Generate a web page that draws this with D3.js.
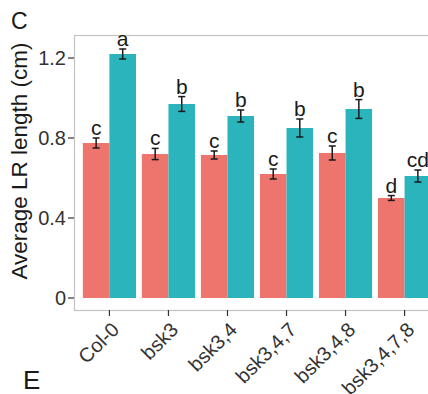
<!DOCTYPE html>
<html><head><meta charset="utf-8">
<script src="https://cdn.jsdelivr.net/npm/d3@7"></script>
<style>body{margin:0;background:#fff}svg{display:block}text{font-family:"Liberation Sans",Arial,sans-serif}</style>
</head><body><svg id="c" width="428" height="394"></svg>
<script>
const categories = ["Col-0","bsk3","bsk3,4","bsk3,4,7","bsk3,4,8","bsk3,4,7,8"];
const series = ["s1","s2"];
const values1 = [0.775,0.72,0.715,0.62,0.725,0.50];
const errors1 = [0.025,0.028,0.02,0.025,0.035,0.012];
const letters1 = ["c","c","c","c","c","d"];
const values2 = [1.22,0.97,0.91,0.85,0.945,0.61];
const errors2 = [0.025,0.037,0.03,0.045,0.047,0.03];
const letters2 = ["a","b","b","b","b","cd"];
const yTicks = [0,0.4,0.8,1.2];
const yTickLabels = ["0","0.4","0.8","1.2"];
const colors = ["#EE746E","#2BB4BC"];

const svg = d3.select("#c");
const pL=74, pT=35, pB=310, pR=440;
const x = d3.scaleBand().domain(categories).range([pL,pR]).paddingInner(0).paddingOuter(0.1);
const y = d3.scaleLinear().domain([0,1.2]).range([298,58]);
const dodge = d3.scaleBand().domain(series).range([0,x.bandwidth()*0.9]);
const off = x.bandwidth()*0.05;

// panel
svg.append("rect").attr("x",pL+0.5).attr("y",pT+0.5).attr("width",pR-pL).attr("height",pB-pT)
  .attr("fill","#fff").attr("stroke","#c4c4c4").attr("stroke-width",1.2);

const data = [];
categories.forEach((c,i)=>{
  data.push({c,s:"s1",v:values1[i],e:errors1[i],l:letters1[i],col:colors[0]});
  data.push({c,s:"s2",v:values2[i],e:errors2[i],l:letters2[i],col:colors[1]});
});
const g = svg.append("g");
g.selectAll("rect.bar").data(data).join("rect").attr("class","bar")
  .attr("x",d=>x(d.c)+off+dodge(d.s)).attr("width",dodge.bandwidth())
  .attr("y",d=>y(d.v)).attr("height",d=>y(0)-y(d.v)).attr("fill",d=>d.col);
// error bars
const cx = d=>x(d.c)+off+dodge(d.s)+dodge.bandwidth()/2;
const eb = g.selectAll("g.eb").data(data).join("g").attr("stroke","#1a1a1a").attr("stroke-width",1.5);
eb.append("line").attr("x1",cx).attr("x2",cx).attr("y1",d=>y(d.v-d.e)).attr("y2",d=>y(d.v+d.e));
eb.append("line").attr("x1",d=>cx(d)-3.5).attr("x2",d=>cx(d)+3.5).attr("y1",d=>y(d.v-d.e)).attr("y2",d=>y(d.v-d.e));
eb.append("line").attr("x1",d=>cx(d)-3.5).attr("x2",d=>cx(d)+3.5).attr("y1",d=>y(d.v+d.e)).attr("y2",d=>y(d.v+d.e));
g.selectAll("text.lt").data(data).join("text").attr("class","lt")
  .attr("x",cx).attr("y",d=>y(d.v+d.e)-3).attr("text-anchor","middle")
  .attr("font-size",21).attr("fill","#1a1a1a").text(d=>d.l);

// y axis
const ya = svg.append("g");
yTicks.forEach((t,i)=>{
  ya.append("line").attr("x1",68).attr("x2",pL).attr("y1",y(t)).attr("y2",y(t)).attr("stroke","#333").attr("stroke-width",1.2);
  ya.append("text").attr("x",66).attr("y",y(t)).attr("dy","0.35em").attr("text-anchor","end")
    .attr("font-size",20).attr("fill","#333").text(yTickLabels[i]);
});
// x axis
const xa = svg.append("g");
categories.forEach(c=>{
  const tx = x(c)+x.bandwidth()/2;
  xa.append("line").attr("x1",tx).attr("x2",tx).attr("y1",pB).attr("y2",pB+6).attr("stroke","#333").attr("stroke-width",1.2);
  xa.append("text").attr("transform",`translate(${tx+11},331) rotate(-45)`).attr("text-anchor","end")
    .attr("font-size",20).attr("fill","#333").text(c);
});
svg.append("text").attr("transform",`translate(27,161) rotate(-90)`).attr("text-anchor","middle")
  .attr("font-size",22.5).attr("fill","#1a1a1a").text("Average LR length (cm)");
svg.append("text").attr("x",11).attr("y",29).attr("font-size",23).attr("fill","#1a1a1a").text("C");
svg.append("text").attr("x",23).attr("y",389).attr("font-size",26).attr("fill","#1a1a1a").text("E");
</script></body></html>
